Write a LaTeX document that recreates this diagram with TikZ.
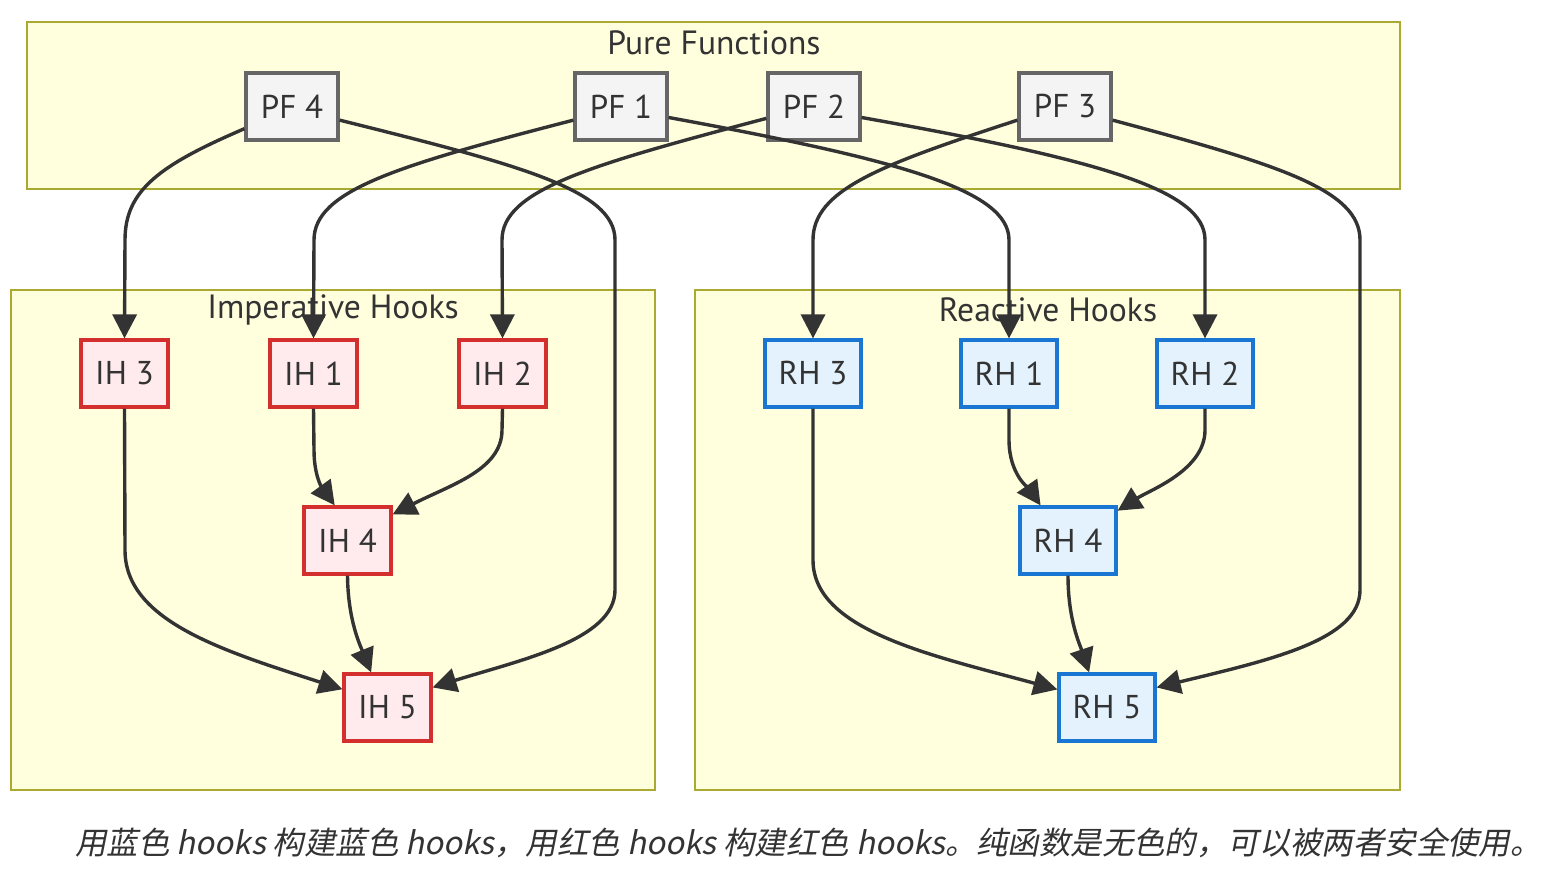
\documentclass[tikz,border=0pt]{standalone}
\usepackage{fontspec}
\setmainfont{PT Sans}
\newfontfamily\cjk[FakeSlant=0.2]{Noto Sans CJK SC}
\usetikzlibrary{arrows.meta}
\definecolor{txt}{HTML}{333333}
\definecolor{clfill}{HTML}{FFFFDE}
\definecolor{cldraw}{HTML}{AAAA33}
\definecolor{pfdraw}{HTML}{666666}
\definecolor{pffill}{HTML}{F4F4F4}
\definecolor{ihdraw}{HTML}{D32F2F}
\definecolor{ihfill}{HTML}{FFEBEE}
\definecolor{rhdraw}{HTML}{1976D2}
\definecolor{rhfill}{HTML}{E3F2FD}
\tikzset{
  cluster/.style={draw=cldraw, fill=clfill, line width=0.6pt},
  cltitle/.style={text=txt, font=\fontsize{16.8}{20}\selectfont, inner sep=0pt},
  box/.style={line width=1.6pt, minimum height=33.5pt, inner sep=0pt, text=txt, font=\fontsize{16.5}{19}\selectfont},
  pfbox/.style={box, draw=pfdraw, fill=pffill, minimum width=46pt},
  ihbox/.style={box, draw=ihdraw, fill=ihfill, minimum width=43.5pt},
  rhbox/.style={box, draw=rhdraw, fill=rhfill, minimum width=48pt},
  edge/.style={draw=txt, line width=1.7pt, -{Triangle[length=12pt,width=12pt]}},
}
\begin{document}
\begin{tikzpicture}[x=0.5pt,y=-0.5pt]
\useasboundingbox[fill=white] (0,0) rectangle (1556,872);
% clusters
\draw[cluster] (27,22) rectangle (1400,189);
\node[cltitle] (tpf) at (714,43) {Pure Functions};
\draw[cluster] (11,290) rectangle (655,790);
\node[cltitle] (tih) at (333,310) {Imperative Hooks};
\draw[cluster] (695,290) rectangle (1400,790);
\node[cltitle] (trh) at (1048,310) {Reactive Hooks};
% nodes
\node[pfbox] (PF4) at (292,106.5) {PF 4};
\node[pfbox] (PF1) at (621,106.5) {PF 1};
\node[pfbox] (PF2) at (814,106.5) {PF 2};
\node[pfbox] (PF3) at (1065,106.5) {PF 3};
\node[ihbox] (IH3) at (124.5,373.5) {IH 3};
\node[ihbox] (IH1) at (313.5,373.5) {IH 1};
\node[ihbox] (IH2) at (502.5,373.5) {IH 2};
\node[ihbox] (IH4) at (347.5,540.5) {IH 4};
\node[ihbox] (IH5) at (387.5,707.5) {IH 5};
\node[rhbox] (RH3) at (813,373.5) {RH 3};
\node[rhbox] (RH1) at (1009,373.5) {RH 1};
\node[rhbox] (RH2) at (1205,373.5) {RH 2};
\node[rhbox] (RH4) at (1068,540.5) {RH 4};
\node[rhbox] (RH5) at (1107,707.5) {RH 5};
% edges
\draw[edge] (PF4.205) .. controls (160,165) and (125,190) .. (125,240) -- (IH3.north);
\draw[edge] (PF4.344) .. controls (520,165) and (615,190) .. (615,240) -- (615,590) .. controls (615,640) and (520,660) .. (IH5.24);
\draw[edge] (PF1.196) .. controls (400,165) and (314,190) .. (314,240) -- (IH1.north);
\draw[edge] (PF1.347) .. controls (900,160) and (1009,190) .. (1009,240) -- (RH1.north);
\draw[edge] (PF2.194) .. controls (590,165) and (502,190) .. (502,240) -- (IH2.north);
\draw[edge] (PF2.347) .. controls (1100,160) and (1205,190) .. (1205,240) -- (RH2.north);
\draw[edge] (PF3.196) .. controls (880,165) and (813,190) .. (813,240) -- (RH3.north);
\draw[edge] (PF3.344) .. controls (1280,165) and (1360,190) .. (1360,240) -- (1360,590) .. controls (1360,640) and (1270,660) .. (RH5.22);
\draw[edge] (IH3.south) -- (125,550) .. controls (125,620) and (220,650) .. (IH5.158);
\draw[edge] (IH1.south) -- (314,450) .. controls (314,480) and (325,492) .. (IH4.110);
\draw[edge] (IH2.south) -- (502,430) .. controls (502,470) and (450,485) .. (IH4.30);
\draw[edge] (IH4.south) .. controls (348,620) and (360,645) .. (IH5.115);
\draw[edge] (RH3.south) -- (813,560) .. controls (813,630) and (930,655) .. (RH5.160);
\draw[edge] (RH1.south) -- (1009,440) .. controls (1009,475) and (1030,490) .. (RH4.128);
\draw[edge] (RH2.south) -- (1205,430) .. controls (1205,470) and (1150,490) .. (RH4.31);
\draw[edge] (RH4.south) .. controls (1068,620) and (1080,645) .. (RH5.117);
% caption
\node[anchor=west, inner sep=0pt, text=txt, font=\cjk\fontsize{15.7}{18}\selectfont] (cap) at (75,843) {用蓝色 hooks 构建蓝色 hooks，用红色 hooks 构建红色 hooks。纯函数是无色的，可以被两者安全使用。};
\end{tikzpicture}
\end{document}
